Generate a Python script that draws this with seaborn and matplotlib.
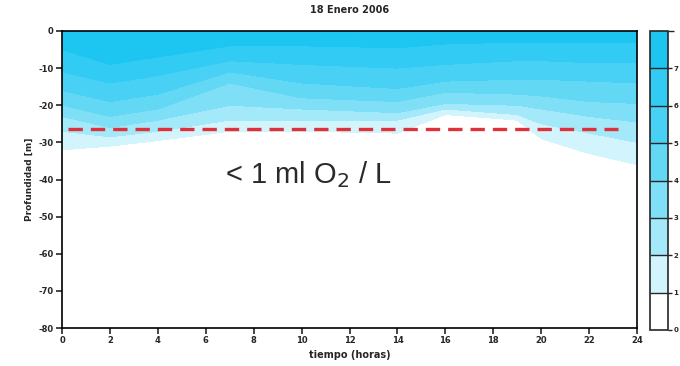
import numpy as np
import pandas as pd
import matplotlib
matplotlib.use("Agg")
import matplotlib.pyplot as plt
from matplotlib.colors import ListedColormap, BoundaryNorm
import seaborn as sns

# ---------------- data ----------------
hours = [0, 2, 4, 7, 10, 14, 16, 19, 20, 22, 24]
# depth (m, negative) of each oxygen isoline (ml O2 / L) at each hour
iso_7 = [-5, -9, -7, -4, -4, -4.5, -3.5, -3, -3, -3, -3]
iso_6 = [-11, -14, -12, -8, -9, -10, -9, -8, -8, -8.5, -8.5]
iso_5 = [-16, -19, -17, -11, -14, -15.5, -13.5, -13, -13, -13.5, -14]
iso_4 = [-20, -23, -21, -14, -18, -19, -16.5, -17, -17.5, -19, -19.5]
iso_3 = [-23, -26, -24, -20, -21, -22, -19.5, -20, -21, -23, -24.5]
iso_2 = [-27, -28.5, -27, -24, -24, -24, -21, -22.5, -25, -27.5, -30]
iso_1 = [-32, -31, -29.5, -27, -27, -27.5, -22.5, -24, -29, -33, -36]
surface_value = 8.0
bottom_value = 0.0
surface_depth = 0.0
bottom_depth = -80.0

levels = [0, 1, 2, 3, 4, 5, 6, 7, 8]
band_colors = ["#ffffff", "#d2f4fd", "#a3e9fa", "#7edff7", "#62d8f5",
               "#48d1f4", "#32cbf3", "#1dc5f1"]

anoxic_depth = -26.3
anoxic_hours = [0.25, 23.2]

x_ticks = list(range(0, 25, 2))
y_ticks = list(range(-80, 1, 10))
title = "18 Enero 2006"
xlabel = "tiempo (horas)"
ylabel = "Profundidad [m]"
note = "< 1 ml O$_2$ / L"

# ---------------- figure ----------------
sns.set_theme(style="ticks")
plt.rcParams["font.family"] = ["DejaVu Sans"]
plt.rcParams["axes.unicode_minus"] = False

fig = plt.figure(figsize=(6.8, 3.66), dpi=100)
ax = fig.add_axes([62 / 680, 1 - 328 / 366, 575 / 680, 297 / 366])
cax = fig.add_axes([650 / 680, 1 - 330 / 366, 18 / 680, 299 / 366])

n = len(hours)
depth_rows = [[surface_depth] * n, iso_7, iso_6, iso_5, iso_4, iso_3, iso_2, iso_1,
              [bottom_depth] * n]
value_rows = [surface_value, 7, 6, 5, 4, 3, 2, 1, bottom_value]
X = np.array([hours] * len(depth_rows), dtype=float)
Y = np.array(depth_rows, dtype=float)
Z = np.array([[v] * n for v in value_rows], dtype=float)

cmap = ListedColormap(band_colors)
norm = BoundaryNorm(levels, cmap.N)
cs = ax.contourf(X, Y, Z, levels=levels, cmap=cmap, norm=norm)

line_df = pd.DataFrame({"t": anoxic_hours, "z": [anoxic_depth] * len(anoxic_hours)})
sns.lineplot(data=line_df, x="t", y="z", ax=ax, color="#e0303a", lw=2.4,
             linestyle=(0, (4.3, 2.4)))

ax.text(6.8, -38.8, note, fontsize=21, color="#2a2a2a", va="center", ha="left",
        family=["Liberation Sans", "DejaVu Sans"])

ax.set_xlim(0, 24)
ax.set_ylim(-80, 0)
ax.set_xticks(x_ticks)
ax.set_yticks(y_ticks)
ax.tick_params(axis="both", direction="out", length=4, width=1.2, labelsize=6,
               pad=2)
for lab in ax.get_xticklabels() + ax.get_yticklabels():
    lab.set_fontweight("bold")
for s in ax.spines.values():
    s.set_visible(True)
    s.set_linewidth(1.2)
    s.set_color("black")
ax.set_title(title, fontsize=7, fontweight="bold", pad=13)
ax.set_xlabel(xlabel, fontsize=7, fontweight="bold", labelpad=3)
ax.set_ylabel(ylabel, fontsize=6.5, fontweight="bold", labelpad=3)

cb = fig.colorbar(cs, cax=cax, drawedges=True)
cb.set_ticks(levels[:-1])
cb.ax.tick_params(labelsize=5, length=3, width=1, pad=1)
for lab in cb.ax.get_yticklabels():
    lab.set_fontweight("bold")
cb.outline.set_linewidth(1.2)
cb.dividers.set_linewidth(1.0)

fig.savefig("out.png", dpi=100)
